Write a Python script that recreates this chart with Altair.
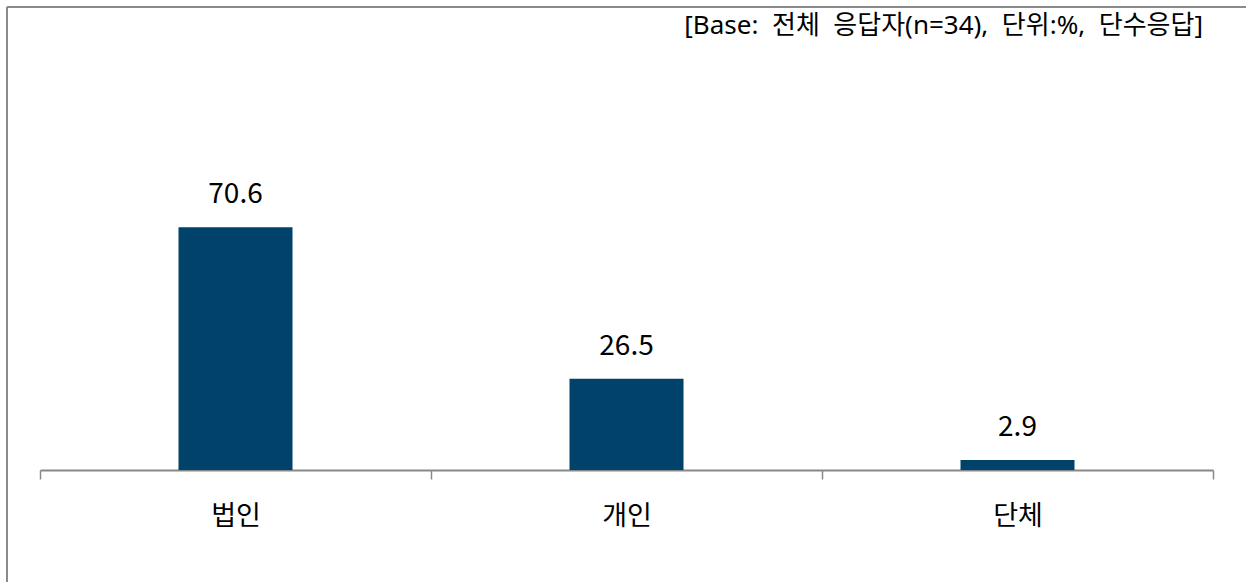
import altair as alt
import pandas as pd

categories = ["법인", "개인", "단체"]
values = [70.6, 26.5, 2.9]
labels = ["70.6", "26.5", "2.9"]
title_text = "[Base:\u00a0\u00a0전체\u00a0\u00a0응답자(n=34),\u00a0\u00a0단위:%,\u00a0\u00a0단수응답]"

df = pd.DataFrame({"cat": categories, "val": values, "lab": labels})
tdf = pd.DataFrame({"t": [title_text]})

FONT = "Noto Sans CJK KR"
TFONT = "Noto Sans, Noto Sans CJK KR"

x = alt.X("cat:N", sort=categories, title=None,
          scale=alt.Scale(paddingInner=0, paddingOuter=0),
          axis=alt.Axis(labelAngle=0, labelFontSize=27, labelColor="#000000",
                        labelFont=FONT, labelPadding=24, tickBand="extent",
                        tickColor="#888888", tickSize=9, tickWidth=1.5,
                        domainColor="#888888", domainWidth=2, grid=False))
y = alt.Y("val:Q", title=None, scale=alt.Scale(domain=[0, 100]), axis=None)

bars = alt.Chart(df).mark_bar(color="#01426A", size=114).encode(x=x, y=y)
text = alt.Chart(df).mark_text(font=FONT, fontSize=28, color="#000000",
                               baseline="alphabetic", dy=-24).encode(
    x=alt.X("cat:N", sort=categories), y="val:Q", text="lab:N")

title = alt.Chart(tdf).mark_text(font=TFONT, fontSize=26, color="#000000",
                                 align="right", baseline="middle").encode(
    x=alt.value(1163), y=alt.value(-100), text="t:N")

border_top = alt.Chart(df).mark_rule(color="#888888", strokeWidth=1.5).encode(
    x=alt.value(-33), x2=alt.value(1240), y=alt.value(-119))
border_left = alt.Chart(df).mark_rule(color="#888888", strokeWidth=1.5).encode(
    x=alt.value(-33), y=alt.value(-119), y2=alt.value(470))

chart = alt.layer(bars, text, title, border_top, border_left).properties(
    width=1173, height=344,
    autosize=alt.AutoSizeParams(type="none"),
    padding={"left": 40, "top": 126, "right": 33, "bottom": 112},
    view=alt.ViewBackground(strokeOpacity=0, strokeWidth=0),
).configure_view(strokeOpacity=0, strokeWidth=0).configure(background="white")

chart.save("out.html", embed_options={"renderer": "svg", "actions": False})
